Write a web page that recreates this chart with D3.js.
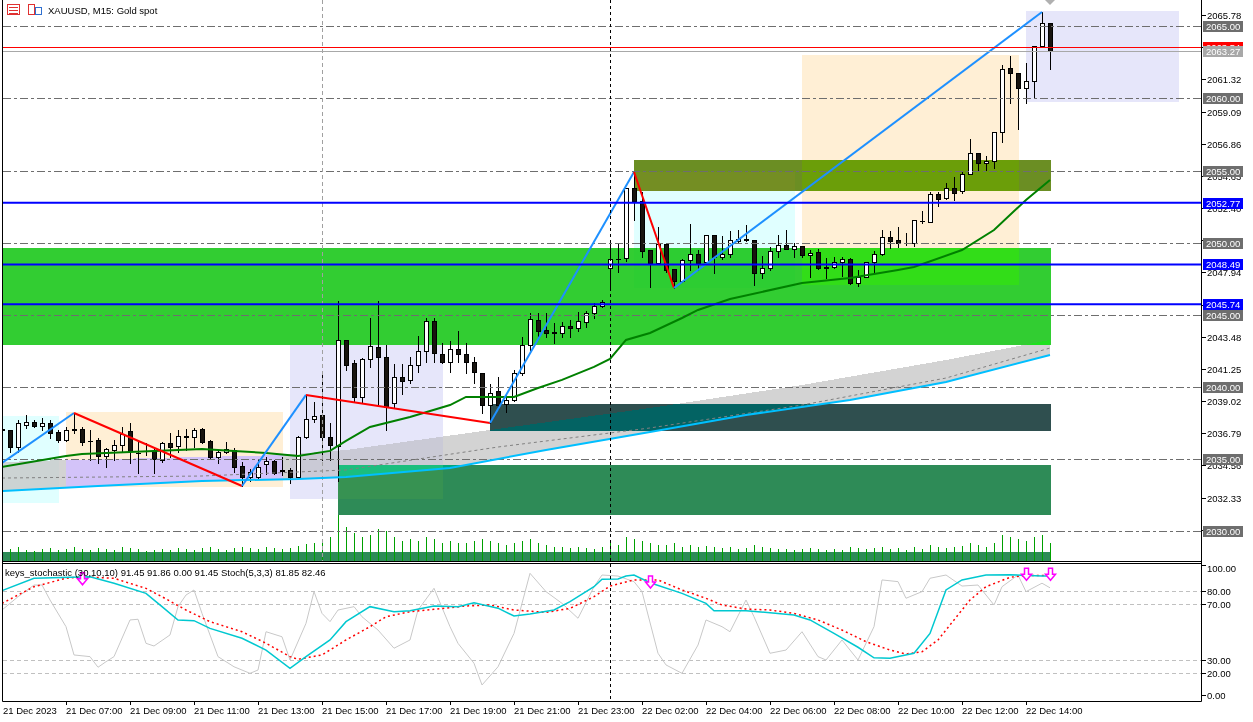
<!DOCTYPE html>
<html><head><meta charset="utf-8">
<script src="https://cdn.jsdelivr.net/npm/d3@7"></script>
<style>
html,body{margin:0;padding:0;background:#fff;}
#wrap{position:relative;width:1253px;height:722px;overflow:hidden;}
#wrap canvas,#wrap svg{position:absolute;left:0;top:0;}
text{font-family:"Liberation Sans",Arial,sans-serif;font-size:9.5px;fill:#000;}
</style></head><body><div id="wrap"></div>
<script>
// ---------------- DATA ----------------
const symbolTitle = "XAUUSD, M15:  Gold spot";
const stochTitle = "keys_stochastic (30,10,10) 91.45 91.86 0.00 91.45 Stoch(5,3,3) 81.85 82.46";
const timeBars = [0,8,16,24,32,40,48,56,64,72,80,88,96,104,112,120,128];
const timeLabels = ["21 Dec 2023","21 Dec 07:00","21 Dec 09:00","21 Dec 11:00","21 Dec 13:00","21 Dec 15:00","21 Dec 17:00","21 Dec 19:00","21 Dec 21:00","21 Dec 23:00","22 Dec 02:00","22 Dec 04:00","22 Dec 06:00","22 Dec 08:00","22 Dec 10:00","22 Dec 12:00","22 Dec 14:00"];
const priceTicks = [2065.78,2063.55,2061.32,2059.09,2056.86,2054.63,2052.40,2050.17,2047.94,2045.71,2043.48,2041.25,2039.02,2036.79,2034.56,2032.33,2030.10];
const roundLevels = [2065,2060,2055,2050,2045,2040,2035,2030];
const blueLevels = [2052.77,2048.49,2045.74];
const askPrice = 2063.54, bidPrice = 2063.27;
const stochTicks = [100,80,70,30,20,0];
const stochLevels = [80,70,30,20];

const opens = [2037.10,2037.02,2035.87,2037.37,2037.56,2037.33,2037.53,2036.91,2036.33,2037.07,
2037.07,2036.29,2036.33,2035.22,2035.64,2035.96,2036.96,2035.45,2035.55,2035.55,
2034.95,2036.10,2035.92,2036.56,2036.56,2037.09,2036.26,2035.18,2035.48,2035.64,
2034.53,2033.79,2033.79,2034.65,2034.88,2034.23,2034.25,2033.79,2036.52,2037.76,
2038.06,2036.56,2035.90,2043.26,2041.65,2039.29,2041.92,2042.80,2042.06,2038.92,
2040.67,2040.49,2041.53,2042.50,2044.56,2042.29,2041.71,2042.62,2042.29,2041.74,
2040.95,2038.78,2039.70,2038.83,2039.10,2040.95,2042.89,2044.65,2043.95,2043.79,
2043.77,2044.23,2044.07,2044.53,2045.11,2045.62,2048.22,2048.87,2048.92,2053.77,
2052.89,2049.49,2048.57,2049.91,2048.18,2047.37,2048.80,2049.19,2048.68,2050.51,
2048.98,2049.19,2050.12,2050.23,2050.19,2047.88,2048.22,2049.42,2049.84,2049.59,
2049.77,2049.12,2049.33,2048.29,2048.29,2048.64,2048.85,2047.18,2047.65,2048.64,
2049.19,2050.42,2050.19,2049.97,2050.00,2051.52,2051.46,2053.38,2053.08,2053.77,
2053.61,2054.76,2056.24,2055.55,2055.69,2057.65,2062.08,2061.74,2060.70,2061.21,
2063.66,2065.20];
const highs = [2037.20,2037.02,2037.72,2038.06,2037.72,2037.83,2037.72,2037.02,2037.26,2038.20,
2037.26,2037.02,2036.45,2035.75,2036.33,2037.26,2037.49,2036.33,2036.10,2035.87,
2036.22,2036.79,2037.02,2037.09,2037.14,2037.14,2036.33,2035.64,2036.22,2035.75,
2034.83,2034.30,2034.95,2035.18,2034.95,2035.18,2034.37,2036.61,2039.45,2038.99,
2041.00,2037.48,2045.99,2043.26,2041.90,2041.99,2044.81,2045.99,2042.92,2041.60,
2041.60,2042.06,2043.54,2044.81,2044.81,2043.08,2043.22,2043.89,2043.03,2042.11,
2040.95,2040.21,2040.72,2039.50,2041.18,2043.49,2045.11,2045.11,2045.11,2044.42,
2044.53,2044.65,2045.22,2045.29,2045.85,2046.03,2049.96,2049.96,2053.77,2054.92,
2053.54,2049.49,2051.11,2049.91,2048.18,2048.85,2051.30,2049.49,2050.51,2050.51,
2050.46,2050.83,2050.88,2051.23,2050.19,2049.08,2049.68,2050.53,2050.88,2049.96,
2049.77,2049.49,2049.54,2048.92,2049.03,2049.03,2048.92,2048.11,2048.68,2049.45,
2050.88,2050.84,2051.11,2050.65,2051.57,2052.20,2053.54,2053.54,2054.16,2054.58,
2054.92,2057.16,2056.24,2056.01,2057.65,2062.32,2062.94,2061.74,2062.48,2063.66,
2065.99,2065.20];
const lows = [2036.90,2035.52,2035.52,2037.14,2037.26,2037.02,2036.45,2036.22,2036.29,2036.79,
2035.99,2034.95,2034.71,2034.44,2034.95,2035.52,2034.71,2034.02,2035.29,2034.02,
2034.83,2035.18,2035.52,2035.64,2035.87,2036.10,2035.06,2034.76,2035.41,2034.14,
2033.14,2033.45,2033.68,2033.98,2033.95,2033.91,2033.33,2033.68,2036.45,2037.60,
2034.95,2034.95,2033.50,2041.18,2039.00,2038.99,2041.37,2038.76,2037.02,2038.64,
2039.50,2040.30,2041.07,2041.76,2041.76,2041.65,2041.07,2041.76,2041.00,2040.30,
2038.23,2037.50,2038.50,2038.29,2039.00,2040.80,2042.57,2043.54,2043.49,2043.08,
2043.49,2043.49,2043.91,2044.19,2044.76,2045.53,2046.72,2048.00,2048.75,2051.57,
2049.03,2046.95,2048.50,2048.00,2046.88,2047.30,2048.11,2048.11,2048.60,2047.92,
2048.85,2049.03,2050.07,2050.12,2047.07,2047.58,2048.11,2048.98,2049.54,2048.98,
2049.00,2047.60,2048.18,2047.53,2048.27,2047.71,2047.14,2047.00,2047.60,2047.88,
2049.15,2049.61,2049.68,2049.84,2049.77,2051.34,2051.46,2052.57,2053.03,2052.96,
2053.42,2054.76,2054.99,2055.04,2055.20,2057.00,2059.66,2057.86,2059.66,2060.12,
2063.66,2062.04];
const closes = [2037.02,2035.87,2037.49,2037.56,2037.33,2037.49,2036.84,2036.33,2037.02,2037.05,
2036.22,2036.27,2035.22,2035.69,2035.96,2036.75,2035.59,2035.43,2035.53,2034.99,
2036.10,2035.87,2036.61,2036.58,2037.02,2036.22,2035.18,2035.48,2035.69,2034.48,
2033.79,2034.14,2034.44,2034.88,2034.07,2034.21,2033.79,2036.52,2037.76,2037.99,
2036.56,2035.99,2043.26,2041.53,2039.29,2041.95,2042.85,2042.06,2038.64,2040.67,
2040.44,2041.53,2042.50,2044.56,2042.34,2041.71,2042.62,2042.27,2041.71,2041.02,
2038.78,2039.57,2038.78,2039.10,2040.95,2042.89,2044.69,2043.91,2043.72,2043.77,
2044.23,2044.07,2044.58,2045.11,2045.62,2045.92,2048.87,2048.85,2053.77,2052.89,
2049.45,2048.57,2049.91,2048.11,2047.37,2048.80,2049.19,2048.57,2050.51,2049.03,
2049.19,2050.19,2050.26,2050.21,2047.88,2048.22,2049.42,2049.84,2049.59,2049.77,
2049.15,2049.26,2048.22,2048.27,2048.64,2048.85,2047.18,2047.65,2048.64,2049.19,
2050.42,2050.14,2049.96,2049.95,2051.57,2051.50,2053.38,2053.03,2053.77,2053.42,
2054.76,2056.24,2055.55,2055.69,2057.65,2062.02,2061.74,2060.70,2061.21,2063.66,
2065.20,2063.27];
const volumes = [650,600,700,550,500,600,650,550,600,700,
600,550,650,600,550,700,650,600,500,550,
600,550,650,600,550,650,700,600,550,650,
700,650,600,700,650,600,650,750,850,900,
1000,1200,2300,1700,1400,1200,1300,1600,1500,1200,
1000,1100,1000,1200,1100,900,1000,900,900,1000,
1100,1000,900,800,900,1000,1100,900,800,700,
700,650,700,650,600,700,900,800,1200,1100,
1000,900,800,800,900,700,800,700,750,700,
650,700,600,650,800,700,650,600,600,550,
600,650,600,550,600,550,700,650,600,650,
700,600,650,550,700,600,800,700,650,700,
750,900,800,700,900,1300,1200,1100,1000,1200,
1300,900];

// zigzag swing points
const zzBars = [0,9,30,38,61,79,84,130];
const zzPrices = [2034.73,2038.20,2033.14,2039.45,2037.50,2054.90,2046.86,2065.99];

// moving averages (sampled)
const maGreenBars = [0,8,10,16,25,29,33,37,41,43,46,51,56,58,64,67,70,74,76,78,81,85,87,91,100,106,112,114,120,124,128,131];
const maGreenVals = [2034.46,2035.22,2035.36,2035.50,2035.70,2035.57,2035.43,2035.22,2035.57,2036.26,2037.23,2037.92,2038.75,2039.31,2039.31,2039.93,2040.49,2041.39,2041.94,2043.26,2043.74,2044.78,2045.34,2046.10,2047.21,2047.55,2048.11,2048.32,2049.49,2050.88,2052.96,2054.35];
const maBlueBars = [0,12,25,37,43,56,68,81,93,106,118,131];
const maBlueVals = [2032.79,2033.14,2033.49,2033.62,2033.76,2034.39,2035.64,2036.88,2038.06,2039.10,2040.35,2042.22];
const bandTopBars = [0,8,25,35,43,61,81,100,118,131];
const bandTopVals = [2034.80,2034.94,2035.15,2035.29,2035.64,2037.02,2038.55,2040.14,2041.87,2043.26];
const maMidBars = [0,25,43,62,81,100,118,131];
const maMidVals = [2033.69,2033.83,2034.25,2035.84,2037.16,2038.75,2040.62,2042.70];

// zones (bar range and price range)
const zoneNames  = ["cyan1","peach1","lavender1","green","darkslate","seagreen","olive","cyan2","peach2","lavender2","strip"];
const zoneStart  = [-1,8,36,-1,61,42,79,79,100,128,-1];
const zoneEnd    = [7,35,55,131,131,131,131,99,127,147,131];
const zoneTop    = [2037.99,2038.27,2042.91,2049.63,2038.82,2034.60,2055.73,2054.90,2063.01,2066.06,2028.57];
const zoneBottom = [2031.96,2033.07,2032.24,2042.91,2036.95,2031.13,2053.58,2046.86,2047.07,2059.75,2026.00];

// stochastic panel
const keysMainBars = [0,4,11,14,18,20,22,24,26,30,33,36,38,41,43,46,49,51,54,57,59,62,64,66,69,71,74,75,77,78,79,81,85,88,89,93,96,99,101,104,107,109,111,114,116,118,120,123,126,130,131];
const keysMainVals = [80.3,89.8,91,86,78.2,68.1,58.6,58.1,52.6,45.5,37.1,23.6,32.4,44.3,57.4,68.1,64.5,65.2,68.6,68.1,71,67,61.4,62.9,65.7,71.8,83.3,89,89.2,91.5,92.3,86.4,78.2,70.5,65.2,65.2,63.8,62.1,58.6,49,39.1,31.6,31.2,34.8,49,80.8,88.5,92.3,92.5,91.5,91.45];
const keysSigBars = [0,4,8,10,14,18,20,23,26,30,33,36,37,40,43,46,48,51,54,58,61,64,68,71,74,76,79,82,85,88,90,93,96,99,102,105,108,111,113,115,117,119,121,123,126,128,130,131];
const keysSigVals = [70.5,83.3,89.8,91,89.8,82,75.6,65.7,57.4,50.2,42,32.4,30.5,33.6,44.3,53.8,60.9,64.5,66.2,68.6,69.3,65.7,64,66.9,75.6,83.8,88.5,88.5,80.8,74.4,69.3,66.4,65.7,63.3,58.6,51.4,43.1,37.1,34.3,35.9,44.3,58.6,73.1,83.3,90.5,92.0,91.9,91.86];
const stochBars = [0,2,4,5,6,8,9,11,12,13,14,16,17,18,19,21,22,23,24,25,27,29,31,32,33,35,36,38,39,40,41,42,44,45,47,49,51,52,54,56,57,59,60,62,64,66,68,70,72,74,75,77,79,80,82,83,85,87,88,90,91,93,94,96,98,100,102,103,105,106,107,109,110,112,113,115,116,118,120,122,124,125,127,128,130,131];
const stochVals = [65.7,75.6,84.6,84.6,73.1,53.8,33.6,32.4,24.4,28.7,32.4,58.6,59.1,41.9,40,47.9,68.1,76.9,80.8,63.3,32.4,24.8,19.7,22.3,50.2,46.6,30,56.2,79.5,63.3,57.4,65.7,68.1,60.9,51.4,38.4,44.3,65.7,82.1,53.8,41.9,27.5,9.1,24.8,49,93.6,79.5,70.5,59.8,83.3,92.3,91.5,87.2,79.5,34.8,26.2,19.7,40.7,58.6,53.8,50.2,73.1,60.9,34.8,37.1,50.2,32.4,30,44.3,37.1,30,53.8,88.5,87.2,74.4,79.5,89.8,92.3,83.8,84.6,69.3,83.3,92.3,79.5,86,82.46];
const arrowBars = [10,81,128,131];
const arrowVals = [94,91.5,97.5,97.5];

// ---------------- LAYOUT ----------------
const W=1253,H=722;
const PL=3, PR=1201, MT=0, MB=561, ST=563, SB=701;
const x = d3.scaleLinear().domain([0,131]).range([2,1050]);
const y = d3.scaleLinear().domain([2027.94,2066.82]).range([561,0]);
const ys = d3.scaleLinear().domain([0,20,30,70,80,100]).range([695,673,660,604,591,565]);
const yv = d3.scaleLinear().domain([0,5000]).range([561,461]);
const zoneColor = {cyan1:"#E0FFFF",peach1:"#FFEFD5",lavender1:"#E6E6FA",green:"#32CD32",darkslate:"#2F4F4F",seagreen:"#2E8B57",olive:"#6B8E23",cyan2:"#E0FFFF",peach2:"#FFEFD5",lavender2:"#E6E6FA",strip:"#2E8B57"};

const wrap = d3.select("#wrap");
// ---------- XOR-filled background objects on canvas ----------
const canvas = wrap.append("canvas").attr("width",W).attr("height",H).node();
const ctx = canvas.getContext("2d");
ctx.fillStyle="#fff"; ctx.fillRect(0,0,W,H);
const img = ctx.getImageData(0,0,W,H);
const mc = document.createElement("canvas"); mc.width=W; mc.height=H;
const m = mc.getContext("2d");
function xorFill(pathFn, col){
  m.clearRect(0,0,W,H);
  m.save(); m.beginPath(); m.rect(PL,MT,PR-PL,MB-MT); m.clip();
  m.fillStyle="#000"; m.beginPath(); pathFn(m); m.fill(); m.restore();
  const md=m.getImageData(0,0,W,H).data, d=img.data, c=d3.rgb(col);
  const xr=255-c.r,xg=255-c.g,xb=255-c.b;
  for(let i=3;i<md.length;i+=4){ if(md[i]>=128){ d[i-3]^=xr; d[i-2]^=xg; d[i-1]^=xb; } }
}
zoneNames.forEach((n,k)=>{
  const x0=Math.round(x(zoneStart[k])), x1=Math.round(x(zoneEnd[k]))+1;
  const y0=Math.round(y(zoneTop[k])), y1=Math.round(y(zoneBottom[k]));
  xorFill(g=>g.rect(x0,y0,x1-x0,y1-y0), zoneColor[n]);
});
const bandPts = bandTopBars.map((b,i)=>[x(b),y(bandTopVals[i])])
  .concat(maBlueBars.map((b,i)=>[x(b),y(maBlueVals[i])]).reverse());
xorFill(g=>{ d3.line().context(g)(bandPts); g.closePath(); }, "#D3D3D3");
ctx.putImageData(img,0,0);

// ---------- SVG layer ----------
const svg = wrap.append("svg").attr("width",W).attr("height",H);
const defs = svg.append("defs");
defs.append("clipPath").attr("id","cm").append("rect").attr("x",PL).attr("y",MT).attr("width",PR-PL).attr("height",MB-MT);
defs.append("clipPath").attr("id","cs").append("rect").attr("x",PL).attr("y",ST).attr("width",PR-PL).attr("height",SB-ST);
const gm = svg.append("g").attr("clip-path","url(#cm)");

// volumes
gm.append("g").selectAll("line").data(volumes).join("line")
  .attr("x1",(v,i)=>x(i)+0.5).attr("x2",(v,i)=>x(i)+0.5)
  .attr("y1",yv(0)).attr("y2",v=>yv(v)).attr("stroke","#00a000").attr("stroke-width",1);

// candles
const cg = gm.append("g");
opens.forEach((o,i)=>{
  const cx=Math.round(x(i)), c=closes[i];
  cg.append("line").attr("x1",cx+0.5).attr("x2",cx+0.5)
    .attr("y1",Math.round(y(highs[i]))).attr("y2",Math.round(y(lows[i]))+1).attr("stroke","#000");
  const yt=Math.round(y(Math.max(o,c))), yb=Math.round(y(Math.min(o,c)));
  if(yb-yt<1){
    cg.append("line").attr("x1",cx-2).attr("x2",cx+3).attr("y1",yt+0.5).attr("y2",yt+0.5).attr("stroke","#000");
  } else {
    cg.append("rect").attr("x",cx-1.5).attr("y",yt+0.5).attr("width",4).attr("height",yb-yt)
      .attr("fill",c>=o?"#fff":"#18140f").attr("stroke","#000");
  }
});

// round levels
gm.append("g").selectAll("line").data(roundLevels).join("line")
  .attr("x1",PL).attr("x2",PR).attr("y1",d=>Math.round(y(d))+0.5).attr("y2",d=>Math.round(y(d))+0.5)
  .attr("stroke","#6e6e6e").attr("stroke-dasharray","8,3,3,3");

// vertical gray line
gm.append("line").attr("x1",Math.round(x(40))+0.5).attr("x2",Math.round(x(40))+0.5).attr("y1",MT).attr("y2",MB)
  .attr("stroke","#a0a0a0").attr("stroke-dasharray","4,3");

const ln = d3.line().x(d=>x(d[0])).y(d=>y(d[1]));
const zip=(a,b)=>a.map((v,i)=>[v,b[i]]);
gm.append("path").attr("d",ln(zip(maMidBars,maMidVals))).attr("fill","none").attr("stroke","#808080").attr("stroke-dasharray","3,3");
gm.append("path").attr("d",ln(zip(maBlueBars,maBlueVals))).attr("fill","none").attr("stroke","#00BFFF").attr("stroke-width",2);
gm.append("path").attr("d",ln(zip(maGreenBars,maGreenVals))).attr("fill","none").attr("stroke","#008000").attr("stroke-width",2);

// zigzag
for(let k=0;k<zzBars.length-1;k++){
  const up = zzPrices[k+1]>zzPrices[k];
  gm.append("path").attr("d",ln([[zzBars[k],zzPrices[k]],[zzBars[k+1],zzPrices[k+1]]]))
    .attr("fill","none").attr("stroke",up?"#1E90FF":"#FF0000").attr("stroke-width",2);
}

// horizontal blue lines, ask/bid
gm.append("g").selectAll("line").data(blueLevels).join("line")
  .attr("x1",PL).attr("x2",PR).attr("y1",d=>y(d)).attr("y2",d=>y(d)).attr("stroke","#0000FF").attr("stroke-width",2);
gm.append("line").attr("x1",PL).attr("x2",PR).attr("y1",Math.round(y(askPrice))+0.5).attr("y2",Math.round(y(askPrice))+0.5).attr("stroke","#FF0000");
gm.append("line").attr("x1",PL).attr("x2",PR).attr("y1",Math.round(y(bidPrice))+0.5).attr("y2",Math.round(y(bidPrice))+0.5).attr("stroke","#A8A8A8");

// top marker
const mx=x(131);
gm.append("path").attr("d",`M${mx-5},0L${mx+5},0L${mx},5Z`).attr("fill","#B0B0B0");

// ---------- stochastic panel ----------
const gs = svg.append("g").attr("clip-path","url(#cs)");
gs.append("g").selectAll("line").data(stochLevels).join("line")
  .attr("x1",PL).attr("x2",PR).attr("y1",d=>Math.round(ys(d))+0.5).attr("y2",d=>Math.round(ys(d))+0.5)
  .attr("stroke","#C0C0C0").attr("stroke-dasharray","4,3");
const ls = d3.line().x(d=>x(d[0])).y(d=>ys(d[1]));
gs.append("path").attr("d",ls(zip(stochBars,stochVals))).attr("fill","none").attr("stroke","#C8C8C8").attr("stroke-width",1);
gs.append("path").attr("d",ls(zip(keysSigBars,keysSigVals))).attr("fill","none").attr("stroke","#FF0000").attr("stroke-width",1.5).attr("stroke-dasharray","2,3");
gs.append("path").attr("d",ls(zip(keysMainBars,keysMainVals))).attr("fill","none").attr("stroke","#00C8D0").attr("stroke-width",1.5);
arrowBars.forEach((b,i)=>{
  const ax=Math.round(x(b))+0.5, ay=ys(arrowVals[i]);
  gs.append("path").attr("d",`M${ax-2},${ay}L${ax+2},${ay}L${ax+2},${ay+6}L${ax+5},${ay+6}L${ax},${ay+12}L${ax-5},${ay+6}L${ax-2},${ay+6}Z`)
    .attr("fill","#fff").attr("stroke","#FF00FF").attr("stroke-width",1.5);
});

// separator (day) line across both panels
const sx=Math.round(x(76))+0.5;
svg.append("line").attr("x1",sx).attr("x2",sx).attr("y1",0).attr("y2",SB).attr("stroke","#000").attr("stroke-dasharray","3,3");

// frames
svg.append("line").attr("x1",2.5).attr("x2",2.5).attr("y1",0).attr("y2",SB+0.5).attr("stroke","#000");
svg.append("line").attr("x1",PR+0.5).attr("x2",PR+0.5).attr("y1",0).attr("y2",SB+0.5).attr("stroke","#000");
svg.append("line").attr("x1",2.5).attr("x2",PR+0.5).attr("y1",MB+0.5).attr("y2",MB+0.5).attr("stroke","#000");
svg.append("line").attr("x1",2.5).attr("x2",PR+0.5).attr("y1",ST+0.5).attr("y2",ST+0.5).attr("stroke","#000");
svg.append("line").attr("x1",2.5).attr("x2",PR+0.5).attr("y1",SB+0.5).attr("y2",SB+0.5).attr("stroke","#000");

// right price axis
const ra = svg.append("g");
priceTicks.forEach(p=>{
  const yy=Math.round(y(p))+0.5;
  ra.append("line").attr("x1",PR).attr("x2",PR+5).attr("y1",yy).attr("y2",yy).attr("stroke","#000");
  ra.append("text").attr("x",PR+6).attr("y",yy).attr("dy","0.35em").text(p.toFixed(2));
});
function box(p,bg,fg){
  const yy=Math.round(y(p));
  ra.append("rect").attr("x",PR+2).attr("y",yy-5).attr("width",40).attr("height",11).attr("fill",bg);
  ra.append("text").attr("x",PR+5).attr("y",yy+0.5).attr("dy","0.35em").style("fill",fg).text(p.toFixed(2));
}
roundLevels.forEach(p=>box(p,"#6e6e6e","#fff"));
blueLevels.forEach(p=>box(p,"#0000FF","#fff"));
box(askPrice,"#FF0000","#fff");
box(bidPrice,"#A8A8A8","#fff");

// stoch axis
stochTicks.forEach(v=>{
  const yy=Math.round(ys(v))+0.5;
  svg.append("line").attr("x1",PR).attr("x2",PR+5).attr("y1",yy).attr("y2",yy).attr("stroke","#000");
  svg.append("text").attr("x",PR+6).attr("y",Math.max(yy,569)).attr("dy","0.35em").text(v.toFixed(2));
});

// time axis
timeBars.forEach((b,i)=>{
  const tx=Math.round(x(b))+0.5;
  if(i>0) svg.append("line").attr("x1",tx).attr("x2",tx).attr("y1",SB).attr("y2",SB+4).attr("stroke","#000");
  svg.append("text").attr("x",i>0?tx-0.5:3).attr("y",714).text(timeLabels[i]);
});

// titles
svg.append("text").attr("x",48).attr("y",14).text(symbolTitle);
svg.append("text").attr("x",5).attr("y",576).style("font-size","9.5px").text(stochTitle);
// icons
const ic = svg.append("g");
ic.append("rect").attr("x",7.5).attr("y",4.5).attr("width",12).attr("height",10).attr("fill","#fff").attr("stroke","#E03030");
[7,10,13].forEach(v=>ic.append("line").attr("x1",9).attr("x2",18).attr("y1",v+0.5).attr("y2",v+0.5).attr("stroke","#E03030"));
ic.append("rect").attr("x",28.5).attr("y",4.5).attr("width",6).attr("height",10).attr("fill","#fff").attr("stroke","#E03030");
ic.append("rect").attr("x",35.5).attr("y",7.5).attr("width",6).attr("height",7).attr("fill","#fff").attr("stroke","#3070D0");
</script></body></html>
